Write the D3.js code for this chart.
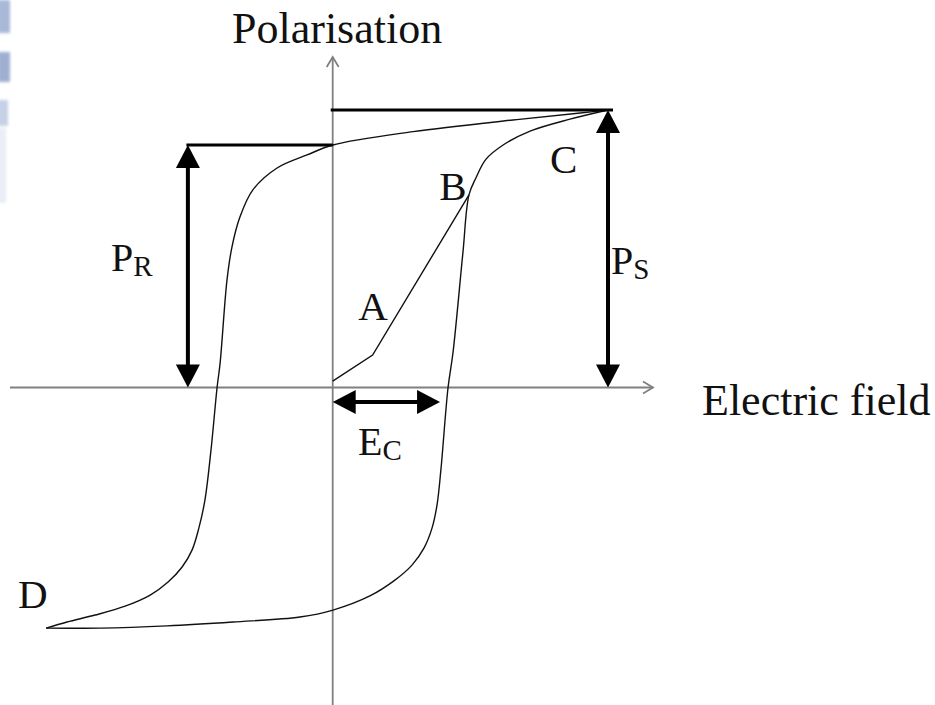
<!DOCTYPE html>
<html>
<head>
<meta charset="utf-8">
<script src="https://cdn.jsdelivr.net/npm/d3@7"></script>
<style>
  html, body { margin: 0; padding: 0; background: #fff; }
  svg { display: block; }
  text { font-family: "Liberation Serif", "Times New Roman", serif; fill: #111; }
</style>
</head>
<body>
<svg id="chart" width="935" height="705"></svg>
<script>
// Ferroelectric hysteresis loop, normalised units (E / E_max, P / P_s)

// Descending branch: from saturation C back to negative saturation D
const upperField = [1.0, 0.899, 0.655, 0.292, 0.001, -0.093, -0.202, -0.290, -0.337, -0.366, -0.384, -0.409, -0.420, -0.442, -0.464, -0.486, -0.511, -0.547, -0.598, -0.663, -0.754, -0.863, -0.965, -1.041];
const upperPol   = [1.0, 0.989, 0.964, 0.922, 0.874, 0.838, 0.791, 0.712, 0.614, 0.506, 0.387, 0.088, 0.0, -0.225, -0.405, -0.506, -0.586, -0.647, -0.701, -0.748, -0.788, -0.820, -0.845, -0.867];

// Ascending branch: from D up to C
const lowerField = [-1.041, -0.845, -0.602, -0.362, -0.119, 0.001, 0.135, 0.226, 0.288, 0.332, 0.361, 0.379, 0.393, 0.419, 0.437, 0.473, 0.495, 0.521, 0.557, 0.619, 0.717, 0.862, 1.0];
const lowerPol   = [-0.867, -0.867, -0.859, -0.845, -0.827, -0.802, -0.751, -0.694, -0.640, -0.578, -0.506, -0.423, -0.297, 0.0, 0.126, 0.486, 0.694, 0.757, 0.823, 0.874, 0.924, 0.967, 1.0];

// Virgin (initial) polarisation curve: origin -> A -> B
const initField = [0.0, 0.145, 0.495];
const initPol   = [0.023, 0.117, 0.694];

// Characteristic values
const remanentPol   = 0.874;   // P_R
const saturationPol = 1.0;     // P_S
const coerciveField = 0.39;    // E_C
const maxField      = 1.0;     // field at C
const prArrowField  = -0.526;  // where the P_R marker is drawn

const axisTitles = ["Polarisation", "Electric field"];
const pointNames = ["A", "B", "C", "D"];

const svg = d3.select("#chart");

const x = d3.scaleLinear().domain([-1, 1]).range([57.4, 608]);
const y = d3.scaleLinear().domain([-1, 1]).range([665, 110]);

// faint bluish smudges along the left edge
const defs = svg.append("defs");
defs.append("filter").attr("id", "soft")
  .append("feGaussianBlur").attr("stdDeviation", 1.8);
const smudges = svg.append("g").attr("filter", "url(#soft)");
[[-2, 0, 12, 33, "#a9b7d8"], [-2, 52, 12, 30, "#9fafd2"], [-2, 100, 10, 26, "#c6d0e6"], [-2, 128, 8, 75, "#eaeef6"]]
  .forEach(r => smudges.append("rect")
    .attr("x", r[0]).attr("y", r[1]).attr("width", r[2]).attr("height", r[3]).attr("fill", r[4]));

// axes
const axisColor = "#808080";
const gAxes = svg.append("g").attr("stroke", axisColor).attr("stroke-width", 1.8).attr("fill", "none");
const x0 = x(0), y0 = y(0);
gAxes.append("line").attr("x1", x0).attr("x2", x0).attr("y1", 705).attr("y2", 57);
gAxes.append("line").attr("x1", 10).attr("x2", 653).attr("y1", y0).attr("y2", y0);
gAxes.append("path").attr("d", `M${x0 - 6},${57 + 10}L${x0},${57}L${x0 + 6},${57 + 10}`);
gAxes.append("path").attr("d", `M${653 - 10},${y0 - 6}L${653},${y0}L${653 - 10},${y0 + 6}`);

// hysteresis curves
const line = d3.line()
  .x(d => x(d[0])).y(d => y(d[1]))
  .curve(d3.curveCatmullRom.alpha(0.5));

const gCurves = svg.append("g").attr("fill", "none").attr("stroke", "#111").attr("stroke-width", 1.4);
gCurves.append("path").attr("d", line(upperField.map((e, i) => [e, upperPol[i]])));
gCurves.append("path").attr("d", line(lowerField.map((e, i) => [e, lowerPol[i]])));
gCurves.append("path").attr("d", d3.line().x(d => x(d[0])).y(d => y(d[1]))(initField.map((e, i) => [e, initPol[i]])));

// thick double-headed arrows
const gMarks = svg.append("g");
const headLen = 23, headHalf = 12;
function arrow(xa, ya, xb, yb) {
  const dx = xb - xa, dy = yb - ya, len = Math.hypot(dx, dy);
  const ux = dx / len, uy = dy / len, px = -uy, py = ux;
  gMarks.append("line")
    .attr("x1", xa + ux * (headLen - 2)).attr("y1", ya + uy * (headLen - 2))
    .attr("x2", xb - ux * (headLen - 2)).attr("y2", yb - uy * (headLen - 2))
    .attr("stroke", "#000").attr("stroke-width", 4);
  [[xa, ya, -1], [xb, yb, 1]].forEach(([tx, ty, s]) => {
    const bx = tx - s * ux * headLen, by = ty - s * uy * headLen;
    gMarks.append("path")
      .attr("d", `M${tx},${ty}L${bx + px * headHalf},${by + py * headHalf}L${bx - px * headHalf},${by - py * headHalf}Z`)
      .attr("fill", "#000");
  });
}
function bar(xa, ya, xb, yb) {
  gMarks.append("line").attr("x1", xa).attr("y1", ya).attr("x2", xb).attr("y2", yb)
    .attr("stroke", "#000").attr("stroke-width", 3);
}

// P_R
bar(x(prArrowField) - 1.5, y(remanentPol), x(0), y(remanentPol));
arrow(x(prArrowField), y(0), x(prArrowField), y(remanentPol));
// P_S
bar(x(0) - 2, y(saturationPol), x(maxField) + 5, y(saturationPol));
arrow(x(maxField), y(0), x(maxField), y(saturationPol));
// E_C
arrow(x(0), y(-0.052), x(coerciveField), y(-0.052));

// text
const gText = svg.append("g");
gText.append("text").attr("x", 232).attr("y", 43).attr("font-size", 44).text(axisTitles[0]);
gText.append("text").attr("x", 702).attr("y", 415).attr("font-size", 44).text(axisTitles[1]);

const pointPos = [[0.093, 0.243], [0.387, 0.676], [0.789, 0.772], [-1.143, -0.795]];
pointNames.forEach((n, i) => {
  gText.append("text").attr("x", x(pointPos[i][0])).attr("y", y(pointPos[i][1]))
    .attr("font-size", 41).text(n);
});

function subLabel(px, py, main, sub) {
  const t = gText.append("text").attr("x", px).attr("y", py).attr("font-size", 40);
  t.append("tspan").text(main);
  t.append("tspan").attr("font-size", 29).attr("dy", 5).text(sub);
}
subLabel(111, 271, "P", "R");
subLabel(611, 274, "P", "S");
subLabel(358, 455, "E", "C");
</script>
</body>
</html>
